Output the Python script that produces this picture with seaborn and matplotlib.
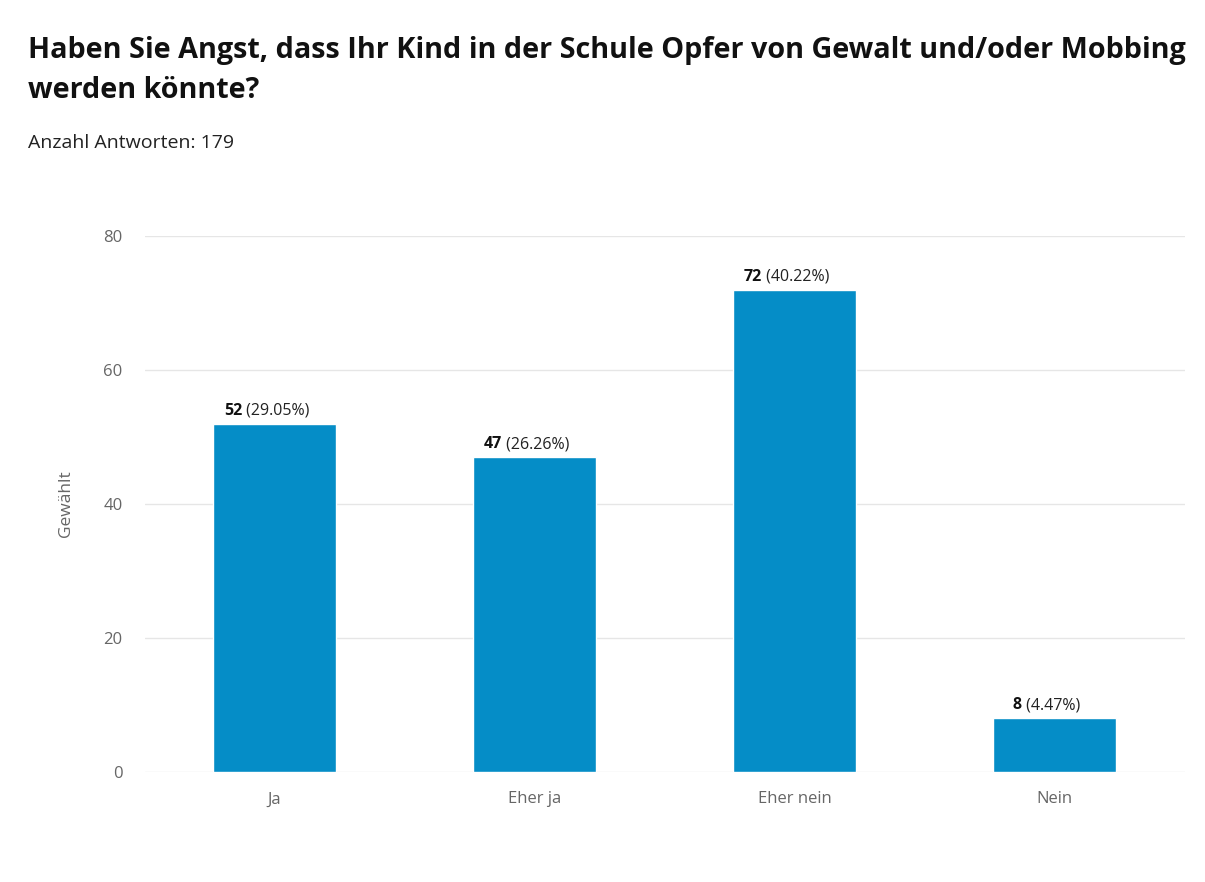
import matplotlib
matplotlib.use("Agg")
import matplotlib.pyplot as plt
import seaborn as sns
import pandas as pd

# data
kategorien = ["Ja", "Eher ja", "Eher nein", "Nein"]
anzahl = [52, 47, 72, 8]
prozent = ["29.05%", "26.26%", "40.22%", "4.47%"]
titel = "Haben Sie Angst, dass Ihr Kind in der Schule Opfer von Gewalt und/oder Mobbing\nwerden könnte?"
untertitel = "Anzahl Antworten: 179"

df = pd.DataFrame({"Antwort": kategorien, "Gewählt": anzahl})

sns.set_style("white")
plt.rcParams["font.family"] = ["Open Sans", "DejaVu Sans"]

fig = plt.figure(figsize=(12.05, 8.82), dpi=100)
ax = fig.add_axes([0.120, 0.1247, 0.863, 0.6077])

sns.barplot(data=df, x="Antwort", y="Gewählt", color="#058DC7", saturation=1,
            width=0.47, ax=ax, zorder=3)

ax.set_ylim(0, 80)
ax.set_xlim(-0.5, 3.5)
ax.set_yticks([0, 20, 40, 60, 80])
ax.yaxis.grid(True, color="#e6e6e6", linewidth=1, zorder=0)
ax.set_axisbelow(True)
for s in ax.spines.values():
    s.set_visible(False)
ax.tick_params(axis="both", length=0, labelsize=12, labelcolor="#666666")
ax.tick_params(axis="y", pad=16)
ax.tick_params(axis="x", pad=14)
ax.set_xlabel("")
ax.set_ylabel("Gewählt", fontsize=12.5, color="#666666", labelpad=21)

fig.text(0.0232, 0.959, titel, fontsize=20.7, fontweight="bold", color="#111111",
         va="top", ha="left", linespacing=1.5)
fig.text(0.0232, 0.838, untertitel, fontsize=14, color="#222222", va="center", ha="left")

# labels: bold count + normal percentage, centred together over each bar
fig.canvas.draw()
renderer = fig.canvas.get_renderer()
inv = ax.transData.inverted()
for i, (n, p) in enumerate(zip(anzahl, prozent)):
    t1 = ax.text(0, 0, str(n), fontsize=11.5, fontweight="bold", color="#111111",
                 ha="left", va="bottom")
    t2 = ax.text(0, 0, " (" + p + ")", fontsize=11.5, color="#222222",
                 ha="left", va="bottom")
    w1 = t1.get_window_extent(renderer).width
    w2 = t2.get_window_extent(renderer).width
    cx, cy = ax.transData.transform((i, n))
    x0 = cx - (w1 + w2) / 2 - 8
    y0 = cy + 5
    t1.set_position(inv.transform((x0, y0)))
    t2.set_position(inv.transform((x0 + w1, y0)))

fig.savefig("out.png", dpi=100, facecolor="white")
